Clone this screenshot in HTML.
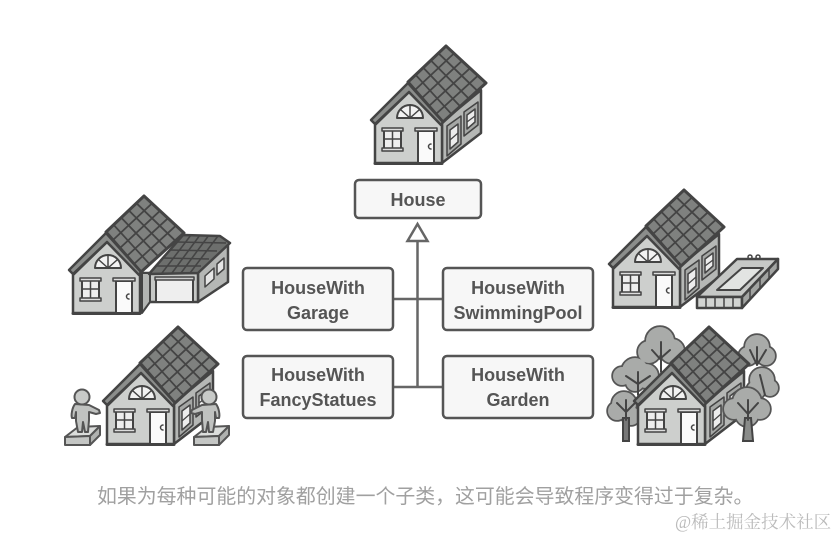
<!DOCTYPE html>
<html><head><meta charset="utf-8">
<style>
html,body{margin:0;padding:0;background:#fff}
body{width:838px;height:538px;overflow:hidden}
svg{display:block}
.art{filter:blur(.35px)}
.l{font:bold 18px "Liberation Sans",sans-serif;fill:#555;text-anchor:middle}
.b{fill:#f7f7f7;stroke:#555;stroke-width:2.5}
.c{stroke:#666;stroke-width:2.5;fill:none}
.blob circle{stroke:#555;stroke-width:3.5;fill:#a9aba9}
.in circle{fill:#a9aba9;stroke:none}
.br{stroke:#444;stroke-width:2;fill:none;stroke-linecap:round}
</style></head><body>
<svg width="838" height="538" viewBox="0 0 838 538" xmlns="http://www.w3.org/2000/svg">
<defs>
<g id="side" stroke-linejoin="round" stroke-linecap="round">
<polygon points="442,163 442,122 481,90 481,133" fill="#b5b7b5" stroke="#444" stroke-width="2.500"/>
<polygon points="447,126 461,116 461,144 447,156" fill="#a5a7a5" stroke="#444" stroke-width="1.500"/>
<polygon points="450,130 458,124 458,142 450,149" fill="#ececec" stroke="#444" stroke-width="1.500"/>
<line x1="450" y1="140" x2="458" y2="133" stroke="#444" stroke-width="1.200"/>
<polygon points="464,112 478,102 478,125 464,136" fill="#a5a7a5" stroke="#444" stroke-width="1.500"/>
<polygon points="467,115 475,109 475,122 467,129" fill="#ececec" stroke="#444" stroke-width="1.500"/>
<line x1="467" y1="122" x2="475" y2="116" stroke="#444" stroke-width="1.200"/>
</g>
<g id="roof" stroke-linejoin="round" stroke-linecap="round">
<polygon points="408,82 446,46 486,83 443,122" fill="#7f817f" stroke="#444" stroke-width="3"/>
<g stroke="#444" stroke-width="1.800">
<line x1="415.6" y1="74.8" x2="451.6" y2="114.2"/>
<line x1="423.2" y1="67.6" x2="460.2" y2="106.4"/>
<line x1="430.8" y1="60.4" x2="468.8" y2="98.6"/>
<line x1="438.4" y1="53.2" x2="477.4" y2="90.8"/>
<line x1="415" y1="90" x2="454" y2="53.4"/>
<line x1="422" y1="98" x2="462" y2="60.8"/>
<line x1="429" y1="106" x2="470" y2="68.2"/>
<line x1="436" y1="114" x2="478" y2="75.6"/>
</g>
</g>
<g id="front" stroke-linejoin="round" stroke-linecap="round">
<polygon points="375,163 442,163 442,125 409,92 375,125" fill="#cdcfcd" stroke="#444" stroke-width="2.500"/>
<polygon points="371,120 408,83 443,122 441,125 409,92 375,124" fill="#8b8d8b" stroke="#444" stroke-width="2.500"/>
<path d="M397,118 A13,13 0 0 1 423,118 Z" fill="#f2f2f2" stroke="#444" stroke-width="2"/>
<path d="M410,118 V105 M410,118 L401,110 M410,118 L419,110" stroke="#444" stroke-width="1.500" fill="none"/>
<rect x="384" y="130" width="17" height="19" fill="#eee" stroke="#444" stroke-width="2"/>
<line x1="384" y1="139" x2="401" y2="139" stroke="#444" stroke-width="1.500"/>
<line x1="392.5" y1="130" x2="392.5" y2="149" stroke="#444" stroke-width="1.500"/>
<rect x="382" y="128" width="21" height="3" fill="#ddd" stroke="#444" stroke-width="1.500"/>
<rect x="382" y="148" width="21" height="3" fill="#ddd" stroke="#444" stroke-width="1.500"/>
<rect x="418" y="131" width="16" height="32" fill="#fafafa" stroke="#444" stroke-width="2"/>
<rect x="415" y="128" width="22" height="3" fill="#ddd" stroke="#444" stroke-width="1.500"/>
<path d="M431,144 a2,2 0 0 0 0,5" stroke="#444" stroke-width="1.500" fill="none"/>
<line x1="375" y1="163.500" x2="442" y2="163.500" stroke="#444" stroke-width="3"/>
</g>
<g id="house"><use href="#side"/><use href="#roof"/><use href="#front"/></g>
<g id="ped" stroke="#555" stroke-linejoin="round">
<polygon points="65,437 78,427 100,426 90,436" fill="#dcdedc" stroke-width="2"/>
<polygon points="65,437 90,436 90,445 65,445" fill="#c4c6c4" stroke-width="2"/>
<polygon points="90,436 100,426 100,435 90,445" fill="#b0b2b0" stroke-width="2"/>
</g>
<g id="fig" stroke="#555" stroke-linejoin="round" stroke-linecap="round">
<path d="M75,404 C72,408 71,415 72,418 L75,418 L76,412 L76,421 L78,432 L82,432 L83,422 L85,432 L88,432 L89,420 L89,412 L96,414 L100,413 L99,410 L89,405 Z" fill="#c0c2c0" stroke-width="2"/>
<circle cx="82" cy="397" r="7.500" fill="#c8cac8" stroke-width="2"/>
</g>
</defs>
<g class="art">
<use href="#house"/>

<!-- garage house -->
<g transform="translate(-302,150)"><use href="#roof"/></g>
<g stroke="#444" stroke-linejoin="round">
<polygon points="198,272 228,242 228,282 198,302" fill="#b5b7b5" stroke-width="2.500"/>
<polygon points="205,276 214,268 214,279 205,287" fill="#e6e6e6" stroke-width="1.500"/>
<polygon points="217,264 224,258 224,269 217,275" fill="#e6e6e6" stroke-width="1.500"/>
<rect x="142" y="273" width="56" height="29" fill="#c5c7c5" stroke-width="2.500"/>
<polygon points="142,273 142,313 150,302 150,273" fill="#b3b5b3" stroke-width="2"/>
<rect x="156" y="278" width="37" height="24" fill="#eeeeee" stroke-width="2"/>
<rect x="155" y="277" width="39" height="3" fill="#ccc" stroke-width="1.500"/>
<polygon points="183,235 220,236 230,243 198,273 149,274" fill="#6d6f6d" stroke-width="2.500"/>
<g stroke-width="1.500" fill="none">
<line x1="176" y1="242" x2="226" y2="243"/><line x1="169" y1="250" x2="217" y2="251"/>
<line x1="162" y1="258" x2="209" y2="259"/><line x1="155" y1="266" x2="201" y2="266"/>
<line x1="191" y1="235" x2="162" y2="273"/><line x1="200" y1="235" x2="172" y2="273"/>
<line x1="209" y1="235" x2="181" y2="273"/><line x1="218" y1="236" x2="190" y2="273"/>
</g>
</g>
<g transform="translate(-302,150)"><use href="#front"/></g>

<!-- statues house -->
<use href="#house" transform="translate(-268,281)"/>
<use href="#ped"/>
<use href="#fig"/>
<use href="#ped" transform="translate(129,0)"/>
<use href="#fig" transform="translate(291,0) scale(-1,1)"/>

<!-- pool house -->
<use href="#house" transform="translate(238,144)"/>
<g stroke="#444" stroke-linejoin="round">
<circle cx="750" cy="257" r="2" fill="none" stroke-width="1.500"/><circle cx="758" cy="257" r="2" fill="none" stroke-width="1.500"/>
<polygon points="697,297 737,259 778,259 742,297" fill="#c6c8c6" stroke-width="2.500"/>
<polygon points="717,290 742,268 763,268 740,290" fill="#e2e4e2" stroke-width="2"/>
<polygon points="697,297 742,297 742,308 697,308" fill="#d2d4d2" stroke-width="2.500"/>
<polygon points="742,297 778,259 778,269 742,308" fill="#a2a4a2" stroke-width="2.500"/>
<g stroke-width="1.500"><line x1="706" y1="297" x2="706" y2="308"/><line x1="715" y1="297" x2="715" y2="308"/><line x1="724" y1="297" x2="724" y2="308"/><line x1="733" y1="297" x2="733" y2="308"/>
<line x1="750" y1="289" x2="750" y2="300"/><line x1="760" y1="278" x2="760" y2="289"/><line x1="769" y1="268" x2="769" y2="279"/></g>
</g>

<!-- trees -->
<g class="blob">
<circle cx="660" cy="341" r="14"/><circle cx="672" cy="351" r="12"/><circle cx="649" cy="352" r="11"/><circle cx="678" cy="355" r="7"/>
<circle cx="635" cy="371" r="13"/><circle cx="622" cy="376" r="9"/><circle cx="646" cy="376" r="12"/><circle cx="635" cy="382" r="9"/>
<circle cx="757" cy="347" r="12"/><circle cx="748" cy="356" r="9"/><circle cx="766" cy="356" r="9"/>
<circle cx="762" cy="380" r="12"/><circle cx="770" cy="388" r="8"/><circle cx="756" cy="390" r="9"/>
<circle cx="624" cy="404" r="12"/><circle cx="617" cy="411" r="9"/><circle cx="631" cy="416" r="9"/>
</g>
<g class="in">
<circle cx="660" cy="341" r="14"/><circle cx="672" cy="351" r="12"/><circle cx="649" cy="352" r="11"/><circle cx="678" cy="355" r="7"/>
<circle cx="635" cy="371" r="13"/><circle cx="622" cy="376" r="9"/><circle cx="646" cy="376" r="12"/><circle cx="635" cy="382" r="9"/>
<circle cx="757" cy="347" r="12"/><circle cx="748" cy="356" r="9"/><circle cx="766" cy="356" r="9"/>
<circle cx="762" cy="380" r="12"/><circle cx="770" cy="388" r="8"/><circle cx="756" cy="390" r="9"/>
<circle cx="624" cy="404" r="12"/><circle cx="617" cy="411" r="9"/><circle cx="631" cy="416" r="9"/>
</g>
<path class="br" d="M661,372 V342 M661,360 L652,350 M661,358 L670,350 M638,395 V372 M638,384 L626,376 M638,384 L650,376 M757,365 L750,350 M757,365 L757,347 M757,365 L766,350 M765,395 L760,375"/>
<polygon points="623,441 623,418 629,418 629,441" fill="#777" stroke="#444" stroke-width="2"/>
<path class="br" d="M626,420 V400 M626,412 L617,403 M626,412 L635,403"/>
<use href="#house" transform="translate(263,281)"/>
<g class="blob"><circle cx="747" cy="402" r="14"/><circle cx="734" cy="409" r="10"/><circle cx="760" cy="409" r="10"/><circle cx="747" cy="415" r="11"/></g>
<g class="in"><circle cx="747" cy="402" r="14"/><circle cx="734" cy="409" r="10"/><circle cx="760" cy="409" r="10"/><circle cx="747" cy="415" r="11"/></g>
<polygon points="743,441 745,418 751,418 753,441" fill="#8a8c8a" stroke="#444" stroke-width="2"/>
<path class="br" d="M748,420 V400 M748,414 L738,403 M748,414 L758,403"/>

<!-- class diagram -->
<path class="c" d="M417.500,241 V387 M393,299 H443 M393,387 H443"/>
<polygon points="417.500,224 407.500,241 427.500,241" fill="#fff" stroke="#666" stroke-width="2.500"/>
<rect class="b" x="355" y="180" width="126" height="38" rx="4"/>
<rect class="b" x="243" y="268" width="150" height="62" rx="4"/>
<rect class="b" x="443" y="268" width="150" height="62" rx="4"/>
<rect class="b" x="243" y="356" width="150" height="62" rx="4"/>
<rect class="b" x="443" y="356" width="150" height="62" rx="4"/>
<text class="l" x="418" y="206">House</text>
<text class="l" x="318" y="294">HouseWith</text><text class="l" x="318" y="319">Garage</text>
<text class="l" x="518" y="294">HouseWith</text><text class="l" x="518" y="319">SwimmingPool</text>
<text class="l" x="318" y="381">HouseWith</text><text class="l" x="318" y="406">FancyStatues</text>
<text class="l" x="518" y="381">HouseWith</text><text class="l" x="518" y="406">Garden</text>
</g>
<text x="97" y="503" font-size="19.900" fill="#a0a0a0" font-family="'Noto Sans CJK SC',sans-serif">如果为每种可能的对象都创建一个子类&#xFF0C;这可能会导致程序变得过于复杂。</text>
<text x="675" y="528" font-size="17.500" fill="#bbb" font-family="'Liberation Serif','Noto Serif CJK SC',serif">@稀土掘金技术社区</text>
</svg>
</body></html>
